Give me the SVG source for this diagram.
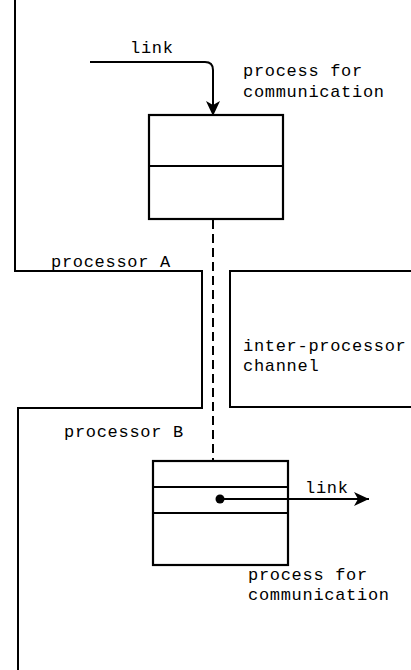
<svg xmlns="http://www.w3.org/2000/svg" width="411" height="670" viewBox="0 0 411 670">
<defs>
<style>
.ln{fill:none;stroke:#000;stroke-width:2}
.bx{fill:#fff;stroke:#000;stroke-width:2.2}
.t{font-family:"Liberation Mono","DejaVu Sans Mono",monospace;font-size:17px;fill:#000;letter-spacing:0.7px}
</style>
<marker id="ah" markerWidth="16" markerHeight="14" refX="15" refY="7" orient="auto" markerUnits="userSpaceOnUse">
<path d="M0,0 L15,7 L0,14 L4,7 Z" fill="#000"/>
</marker>
</defs>
<rect width="411" height="670" fill="#fff"/>
<g id="processorA">
<path class="ln" d="M15,0 V271 H202 V408 H18 V670"/>
<text class="t" x="51" y="267">processor A</text>
</g>
<g id="channel">
<path class="ln" d="M411,271 H230 V407 H411"/>
<text class="t" x="243" y="351">inter-processor</text>
<text class="t" x="243" y="371">channel</text>
</g>
<g id="processorB">
<text class="t" x="64" y="437">processor B</text>
</g>
<g id="processTop">
<rect class="bx" x="149" y="115" width="134" height="104"/>
<line class="ln" x1="149" y1="166" x2="283" y2="166"/>
<text class="t" x="243" y="76">process for</text>
<text class="t" x="243" y="97">communication</text>
</g>
<g id="processBottom">
<rect class="bx" x="153" y="461" width="135" height="104"/>
<line class="ln" x1="153" y1="487" x2="288" y2="487"/>
<line class="ln" x1="153" y1="513" x2="288" y2="513"/>
<text class="t" x="248" y="580">process for</text>
<text class="t" x="248" y="600">communication</text>
</g>
<g id="connectors">
<path class="ln" d="M90,62 H205 Q213,62 213,70 V116" marker-end="url(#ah)"/>
<text class="t" x="130" y="53">link</text>
<line class="ln" x1="213" y1="220" x2="213" y2="461" stroke-dasharray="9 5" stroke-width="2.5"/>
<circle cx="220" cy="499" r="4.5" fill="#000"/>
<line class="ln" x1="220" y1="499" x2="369" y2="499" marker-end="url(#ah)"/>
<text class="t" x="305" y="493">link</text>
</g>
</svg>
